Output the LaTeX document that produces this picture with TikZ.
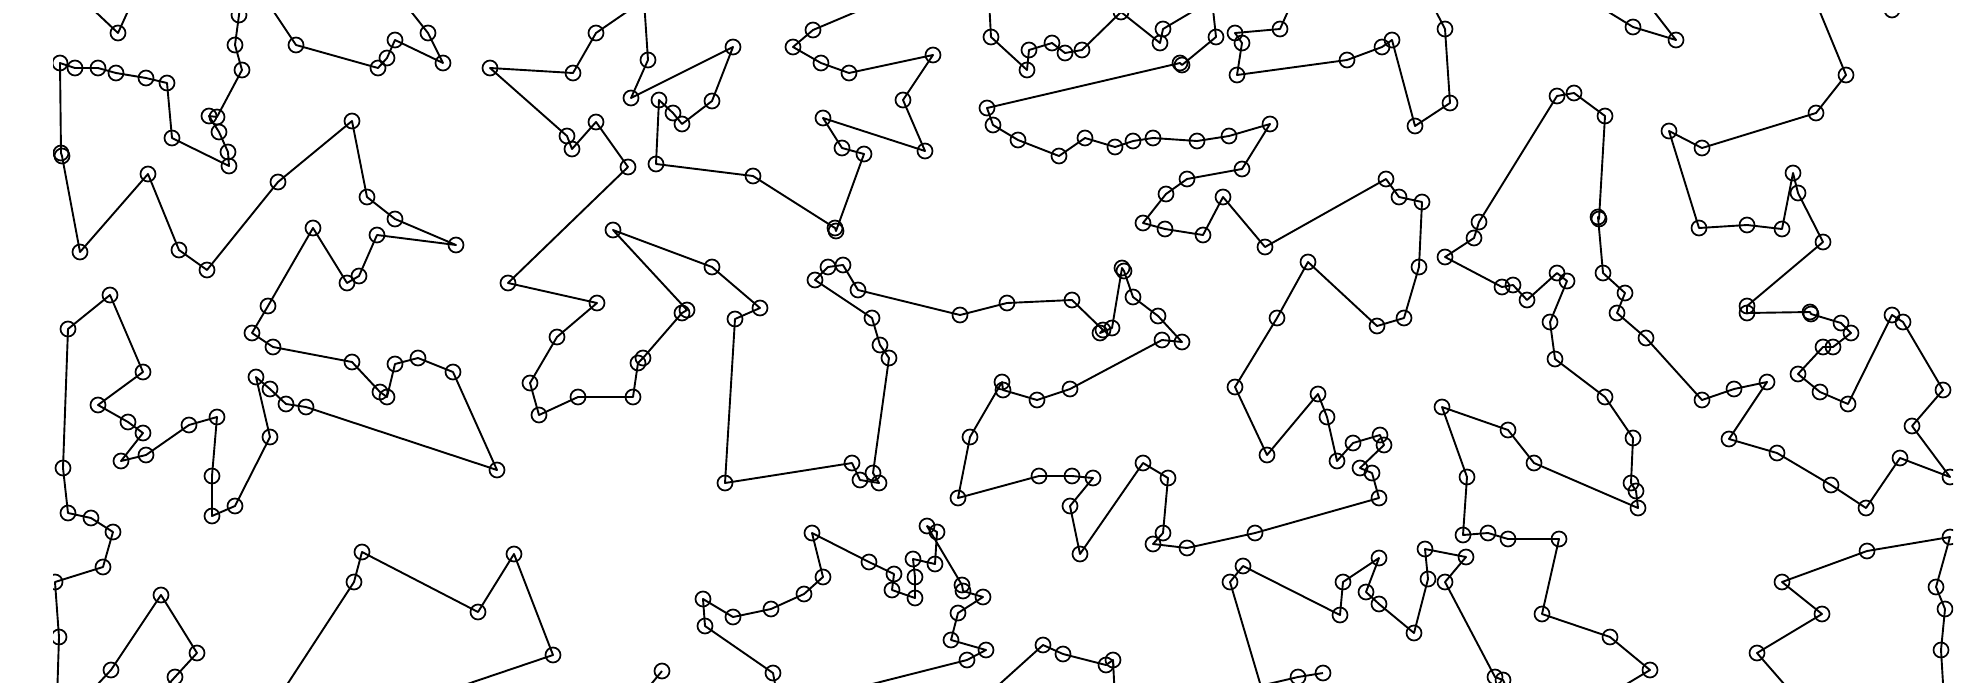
\documentclass[tikz,border=0pt]{standalone}
\tikzset{
  site/.style={draw,circle,minimum size=15pt,inner sep=0pt,line width=1.7pt},
  tour/.style={line width=1.9pt,line join=round}
}
\begin{document}
\begin{tikzpicture}[x=1pt,y=-1pt]
  \useasboundingbox (0,0) rectangle (1986,694);
  \clip (53,13) rectangle (1953,682);
  % ends of the tour that lie outside the frame
  \path
    (83,0) coordinate (as) (133,0) coordinate (ae)
    (241,0) coordinate (bs) (57,700) coordinate (be)
    (266,0) coordinate (cs) (402,0) coordinate (ce)
    (644,0) coordinate (ds) (1212,0) coordinate (de)
    (644,0) coordinate (es) (884,0) coordinate (ee)
    (989,0) coordinate (fs) (1212,0) coordinate (fe)
    (1293,0) coordinate (gs) (1430,0) coordinate (ge)
    (1589,0) coordinate (hs) (1645,0) coordinate (he)
    (1815,0) coordinate (js) (1600,700) coordinate (je)
    (1265,700) coordinate (ks) (1512,700) coordinate (ke)
    (1200,700) coordinate (ls)
    (982,700) coordinate (ms) (1115,700) coordinate (me)
    (778,700) coordinate (ns) (809,700) coordinate (ne)
    (638,700) coordinate (os)
    (277,700) coordinate (ps) (420,700) coordinate (pe)
    (83,700) coordinate (qs) (154,700) coordinate (qe)
    (1944,700) coordinate (ts) (1798,700) coordinate (te);
  % sites
  \draw[every node/.style=site]
    (118,33) node (a1){}
    (1892,10) node (s1){}
    (239,15) node (b1){}
    (235,45) node (b2){}
    (242,70) node (b3){}
    (217,117) node (b4){}
    (209,116) node (b5){}
    (219,132) node (b6){}
    (228,152) node (b7){}
    (229,166) node (b8){}
    (172,138) node (b9){}
    (167,83) node (b10){}
    (146,78) node (b11){}
    (116,73) node (b12){}
    (98,68) node (b13){}
    (75,68) node (b14){}
    (60,63) node (b15){}
    (61,153) node (b16){}
    (62,156) node (b17){}
    (80,252) node (b18){}
    (148,174) node (b19){}
    (179,250) node (b20){}
    (207,270) node (b21){}
    (278,182) node (b22){}
    (352,121) node (b23){}
    (367,197) node (b24){}
    (395,219) node (b25){}
    (456,245) node (b26){}
    (377,235) node (b27){}
    (359,276) node (b28){}
    (347,283) node (b29){}
    (313,228) node (b30){}
    (268,306) node (b31){}
    (252,333) node (b32){}
    (273,347) node (b33){}
    (352,362) node (b34){}
    (380,392) node (b35){}
    (387,397) node (b36){}
    (395,364) node (b37){}
    (418,358) node (b38){}
    (453,372) node (b39){}
    (497,470) node (b40){}
    (306,407) node (b41){}
    (286,404) node (b42){}
    (270,389) node (b43){}
    (256,377) node (b44){}
    (270,437) node (b45){}
    (235,506) node (b46){}
    (212,516) node (b47){}
    (212,476) node (b48){}
    (217,417) node (b49){}
    (189,425) node (b50){}
    (146,455) node (b51){}
    (121,461) node (b52){}
    (143,433) node (b53){}
    (128,422) node (b54){}
    (98,405) node (b55){}
    (143,372) node (b56){}
    (110,295) node (b57){}
    (68,329) node (b58){}
    (63,468) node (b59){}
    (68,513) node (b60){}
    (91,518) node (b61){}
    (113,532) node (b62){}
    (103,567) node (b63){}
    (55,582) node (b64){}
    (59,637) node (b65){};
  \draw[every node/.style=site]
    (296,45) node (c1){}
    (378,68) node (c2){}
    (387,58) node (c3){}
    (395,40) node (c4){}
    (443,63) node (c5){}
    (428,33) node (c6){};
  \draw[every node/.style=site]
    (596,33) node (d1){}
    (573,73) node (d2){}
    (490,68) node (d3){}
    (567,136) node (d4){}
    (572,149) node (d5){}
    (596,122) node (d6){}
    (628,167) node (d7){}
    (508,283) node (d8){}
    (597,303) node (d9){}
    (557,337) node (d10){}
    (530,383) node (d11){}
    (539,415) node (d12){}
    (578,397) node (d13){}
    (633,397) node (d14){}
    (638,363) node (d15){}
    (643,358) node (d16){}
    (682,313) node (d17){}
    (687,310) node (d18){}
    (613,230) node (d19){}
    (712,267) node (d20){}
    (760,308) node (d21){}
    (735,319) node (d22){}
    (725,483) node (d23){}
    (852,463) node (d24){}
    (860,480) node (d25){}
    (879,483) node (d26){}
    (873,473) node (d27){}
    (889,358) node (d28){}
    (880,345) node (d29){}
    (872,318) node (d30){}
    (815,280) node (d31){}
    (828,267) node (d32){}
    (843,265) node (d33){}
    (858,290) node (d34){}
    (960,315) node (d35){}
    (1007,303) node (d36){}
    (1072,300) node (d37){}
    (1103,330) node (d38){}
    (1100,333) node (d39){}
    (1112,328) node (d40){}
    (1122,268) node (d41){}
    (1124,271) node (d42){}
    (1133,297) node (d43){}
    (1158,316) node (d44){}
    (1182,342) node (d45){}
    (1162,340) node (d46){}
    (1070,389) node (d47){}
    (1037,400) node (d48){}
    (1003,390) node (d49){}
    (1002,382) node (d50){}
    (970,437) node (d51){}
    (958,498) node (d52){}
    (1039,476) node (d53){}
    (1072,476) node (d54){}
    (1093,478) node (d55){}
    (1070,506) node (d56){}
    (1080,554) node (d57){}
    (1143,463) node (d58){}
    (1168,478) node (d59){}
    (1163,533) node (d60){}
    (1153,544) node (d61){}
    (1187,548) node (d62){}
    (1255,533) node (d63){}
    (1379,498) node (d64){}
    (1372,473) node (d65){}
    (1360,468) node (d66){}
    (1384,445) node (d67){}
    (1380,435) node (d68){}
    (1353,443) node (d69){}
    (1337,461) node (d70){}
    (1327,417) node (d71){}
    (1318,394) node (d72){}
    (1267,455) node (d73){}
    (1235,387) node (d74){}
    (1277,318) node (d75){}
    (1308,262) node (d76){}
    (1377,326) node (d77){}
    (1404,318) node (d78){}
    (1419,267) node (d79){}
    (1422,202) node (d80){}
    (1399,197) node (d81){}
    (1386,179) node (d82){}
    (1265,247) node (d83){}
    (1223,197) node (d84){}
    (1203,235) node (d85){}
    (1165,229) node (d86){}
    (1143,223) node (d87){}
    (1166,194) node (d88){}
    (1187,179) node (d89){}
    (1242,169) node (d90){}
    (1270,124) node (d91){}
    (1229,136) node (d92){}
    (1197,141) node (d93){}
    (1153,138) node (d94){}
    (1133,141) node (d95){}
    (1115,147) node (d96){}
    (1085,138) node (d97){}
    (1059,156) node (d98){}
    (1018,140) node (d99){}
    (993,125) node (d100){}
    (987,108) node (d101){}
    (1180,63) node (d102){}
    (1182,65) node (d103){}
    (1216,37) node (d104){};
  \draw[every node/.style=site]
    (648,60) node (e1){}
    (631,98) node (e2){}
    (733,47) node (e3){}
    (712,101) node (e4){}
    (682,124) node (e5){}
    (673,113) node (e6){}
    (659,100) node (e7){}
    (656,164) node (e8){}
    (753,176) node (e9){}
    (835,228) node (e10){}
    (836,231) node (e11){}
    (864,154) node (e12){}
    (842,148) node (e13){}
    (823,118) node (e14){}
    (925,151) node (e15){}
    (903,100) node (e16){}
    (933,55) node (e17){}
    (849,73) node (e18){}
    (821,63) node (e19){}
    (793,47) node (e20){}
    (813,30) node (e21){};
  \draw[every node/.style=site]
    (991,37) node (f1){}
    (1027,70) node (f2){}
    (1029,50) node (f3){}
    (1052,43) node (f4){}
    (1065,53) node (f5){}
    (1082,50) node (f6){}
    (1121,12) node (f7){}
    (1160,43) node (f8){}
    (1163,29) node (f9){}
    (1280,29) node (g1){}
    (1235,33) node (g2){}
    (1242,43) node (g3){}
    (1237,75) node (g4){}
    (1347,60) node (g5){}
    (1382,47) node (g6){}
    (1392,40) node (g7){}
    (1415,126) node (g8){}
    (1450,103) node (g9){}
    (1445,29) node (g10){}
    (1633,27) node (h1){}
    (1676,40) node (h2){};
  \draw[every node/.style=site]
    (1846,75) node (j1){}
    (1816,113) node (j2){}
    (1702,148) node (j3){}
    (1669,131) node (j4){}
    (1699,228) node (j5){}
    (1747,225) node (j6){}
    (1782,229) node (j7){}
    (1793,173) node (j8){}
    (1798,193) node (j9){}
    (1823,242) node (j10){}
    (1747,306) node (j11){}
    (1747,313) node (j12){}
    (1810,312) node (j13){}
    (1811,314) node (j14){}
    (1841,323) node (j15){}
    (1851,333) node (j16){}
    (1833,347) node (j17){}
    (1823,347) node (j18){}
    (1798,374) node (j19){}
    (1820,392) node (j20){}
    (1848,404) node (j21){}
    (1892,315) node (j22){}
    (1903,322) node (j23){}
    (1943,390) node (j24){}
    (1912,426) node (j25){}
    (1950,477) node (j26){}
    (1900,458) node (j27){}
    (1866,508) node (j28){}
    (1831,485) node (j29){}
    (1777,453) node (j30){}
    (1729,439) node (j31){}
    (1767,382) node (j32){}
    (1734,389) node (j33){}
    (1702,400) node (j34){}
    (1646,338) node (j35){}
    (1617,313) node (j36){}
    (1625,293) node (j37){}
    (1603,273) node (j38){}
    (1598,217) node (j39){}
    (1599,219) node (j40){}
    (1605,116) node (j41){}
    (1574,93) node (j42){}
    (1557,96) node (j43){}
    (1479,222) node (j44){}
    (1474,238) node (j45){}
    (1445,257) node (j46){}
    (1502,287) node (j47){}
    (1513,285) node (j48){}
    (1527,300) node (j49){}
    (1557,273) node (j50){}
    (1567,281) node (j51){}
    (1550,322) node (j52){}
    (1555,359) node (j53){}
    (1605,397) node (j54){}
    (1633,438) node (j55){}
    (1631,483) node (j56){}
    (1636,491) node (j57){}
    (1638,508) node (j58){}
    (1534,463) node (j59){}
    (1508,430) node (j60){}
    (1442,407) node (j61){}
    (1467,477) node (j62){}
    (1463,535) node (j63){}
    (1488,533) node (j64){}
    (1508,539) node (j65){}
    (1559,539) node (j66){}
    (1542,614) node (j67){}
    (1610,637) node (j68){}
    (1650,670) node (j69){};
  \draw[every node/.style=site]
    (1230,582) node (k1){}
    (1243,566) node (k2){}
    (1340,615) node (k3){}
    (1343,582) node (k4){}
    (1379,558) node (k5){}
    (1366,592) node (k6){}
    (1379,604) node (k7){}
    (1414,633) node (k8){}
    (1428,579) node (k9){}
    (1425,549) node (k10){}
    (1466,557) node (k11){}
    (1445,582) node (k12){}
    (1495,677) node (k13){}
    (1503,680) node (k14){}
    (1298,677) node (l1){}
    (1323,673) node (l2){}
    (1043,645) node (m1){}
    (1063,654) node (m2){}
    (1106,665) node (m3){}
    (1113,660) node (m4){};
  \draw[every node/.style=site]
    (773,673) node (n1){}
    (705,626) node (n2){}
    (703,599) node (n3){}
    (733,617) node (n4){}
    (771,609) node (n5){}
    (804,594) node (n6){}
    (823,577) node (n7){}
    (812,533) node (n8){}
    (869,562) node (n9){}
    (894,574) node (n10){}
    (892,590) node (n11){}
    (915,598) node (n12){}
    (915,577) node (n13){}
    (913,559) node (n14){}
    (935,564) node (n15){}
    (937,532) node (n16){}
    (927,526) node (n17){}
    (962,585) node (n18){}
    (963,591) node (n19){}
    (983,597) node (n20){}
    (958,613) node (n21){}
    (951,640) node (n22){}
    (986,650) node (n23){}
    (967,660) node (n24){}
    (662,671) node (o1){}
    (354,582) node (p1){}
    (362,552) node (p2){}
    (478,612) node (p3){}
    (514,554) node (p4){}
    (553,655) node (p5){}
    (111,670) node (q1){}
    (161,595) node (q2){}
    (197,653) node (q3){}
    (175,677) node (q4){}
    (1941,650) node (t1){}
    (1945,609) node (t2){}
    (1936,587) node (t3){}
    (1950,537) node (t4){}
    (1867,551) node (t5){}
    (1782,582) node (t6){}
    (1822,614) node (t7){}
    (1757,653) node (t8){};
  \begin{scope}[tour]
    \draw (as) -- (a1.center) -- (ae);
    \draw (bs) -- (b1.center) -- (b2.center) -- (b3.center) -- (b4.center) -- (b5.center)
      -- (b6.center) -- (b7.center) -- (b8.center) -- (b9.center) -- (b10.center)
      -- (b11.center) -- (b12.center) -- (b13.center) -- (b14.center) -- (b15.center)
      -- (b16.center) -- (b17.center) -- (b18.center) -- (b19.center) -- (b20.center)
      -- (b21.center) -- (b22.center) -- (b23.center) -- (b24.center) -- (b25.center)
      -- (b26.center) -- (b27.center) -- (b28.center) -- (b29.center) -- (b30.center)
      -- (b31.center) -- (b32.center) -- (b33.center) -- (b34.center) -- (b35.center)
      -- (b36.center) -- (b37.center) -- (b38.center) -- (b39.center) -- (b40.center)
      -- (b41.center) -- (b42.center) -- (b43.center) -- (b44.center) -- (b45.center)
      -- (b46.center) -- (b47.center) -- (b48.center) -- (b49.center) -- (b50.center)
      -- (b51.center) -- (b52.center) -- (b53.center) -- (b54.center) -- (b55.center)
      -- (b56.center) -- (b57.center) -- (b58.center) -- (b59.center) -- (b60.center)
      -- (b61.center) -- (b62.center) -- (b63.center) -- (b64.center) -- (b65.center)
      -- (be);
    \draw (cs) -- (c1.center) -- (c2.center) -- (c3.center) -- (c4.center) -- (c5.center)
      -- (c6.center) -- (ce);
    \draw (ds) -- (d1.center) -- (d2.center) -- (d3.center) -- (d4.center) -- (d5.center)
      -- (d6.center) -- (d7.center) -- (d8.center) -- (d9.center) -- (d10.center)
      -- (d11.center) -- (d12.center) -- (d13.center) -- (d14.center) -- (d15.center)
      -- (d16.center) -- (d17.center) -- (d18.center) -- (d19.center) -- (d20.center)
      -- (d21.center) -- (d22.center) -- (d23.center) -- (d24.center) -- (d25.center)
      -- (d26.center) -- (d27.center) -- (d28.center) -- (d29.center) -- (d30.center)
      -- (d31.center) -- (d32.center) -- (d33.center) -- (d34.center) -- (d35.center)
      -- (d36.center) -- (d37.center) -- (d38.center) -- (d39.center) -- (d40.center)
      -- (d41.center) -- (d42.center) -- (d43.center) -- (d44.center) -- (d45.center)
      -- (d46.center) -- (d47.center) -- (d48.center) -- (d49.center) -- (d50.center)
      -- (d51.center) -- (d52.center) -- (d53.center) -- (d54.center) -- (d55.center)
      -- (d56.center) -- (d57.center) -- (d58.center) -- (d59.center) -- (d60.center)
      -- (d61.center) -- (d62.center) -- (d63.center) -- (d64.center) -- (d65.center)
      -- (d66.center) -- (d67.center) -- (d68.center) -- (d69.center) -- (d70.center)
      -- (d71.center) -- (d72.center) -- (d73.center) -- (d74.center) -- (d75.center)
      -- (d76.center) -- (d77.center) -- (d78.center) -- (d79.center) -- (d80.center)
      -- (d81.center) -- (d82.center) -- (d83.center) -- (d84.center) -- (d85.center)
      -- (d86.center) -- (d87.center) -- (d88.center) -- (d89.center) -- (d90.center)
      -- (d91.center) -- (d92.center) -- (d93.center) -- (d94.center) -- (d95.center)
      -- (d96.center) -- (d97.center) -- (d98.center) -- (d99.center) -- (d100.center)
      -- (d101.center) -- (d102.center) -- (d103.center) -- (d104.center) -- (de);
    \draw (es) -- (e1.center) -- (e2.center) -- (e3.center) -- (e4.center) -- (e5.center)
      -- (e6.center) -- (e7.center) -- (e8.center) -- (e9.center) -- (e10.center)
      -- (e11.center) -- (e12.center) -- (e13.center) -- (e14.center) -- (e15.center)
      -- (e16.center) -- (e17.center) -- (e18.center) -- (e19.center) -- (e20.center)
      -- (e21.center) -- (ee);
    \draw (fs) -- (f1.center) -- (f2.center) -- (f3.center) -- (f4.center) -- (f5.center)
      -- (f6.center) -- (f7.center) -- (f8.center) -- (f9.center) -- (fe);
    \draw (gs) -- (g1.center) -- (g2.center) -- (g3.center) -- (g4.center) -- (g5.center)
      -- (g6.center) -- (g7.center) -- (g8.center) -- (g9.center) -- (g10.center) -- (ge);
    \draw (hs) -- (h1.center) -- (h2.center) -- (he);
    \draw (js) -- (j1.center) -- (j2.center) -- (j3.center) -- (j4.center) -- (j5.center)
      -- (j6.center) -- (j7.center) -- (j8.center) -- (j9.center) -- (j10.center)
      -- (j11.center) -- (j12.center) -- (j13.center) -- (j14.center) -- (j15.center)
      -- (j16.center) -- (j17.center) -- (j18.center) -- (j19.center) -- (j20.center)
      -- (j21.center) -- (j22.center) -- (j23.center) -- (j24.center) -- (j25.center)
      -- (j26.center) -- (j27.center) -- (j28.center) -- (j29.center) -- (j30.center)
      -- (j31.center) -- (j32.center) -- (j33.center) -- (j34.center) -- (j35.center)
      -- (j36.center) -- (j37.center) -- (j38.center) -- (j39.center) -- (j40.center)
      -- (j41.center) -- (j42.center) -- (j43.center) -- (j44.center) -- (j45.center)
      -- (j46.center) -- (j47.center) -- (j48.center) -- (j49.center) -- (j50.center)
      -- (j51.center) -- (j52.center) -- (j53.center) -- (j54.center) -- (j55.center)
      -- (j56.center) -- (j57.center) -- (j58.center) -- (j59.center) -- (j60.center)
      -- (j61.center) -- (j62.center) -- (j63.center) -- (j64.center) -- (j65.center)
      -- (j66.center) -- (j67.center) -- (j68.center) -- (j69.center) -- (je);
    \draw (ks) -- (k1.center) -- (k2.center) -- (k3.center) -- (k4.center) -- (k5.center)
      -- (k6.center) -- (k7.center) -- (k8.center) -- (k9.center) -- (k10.center)
      -- (k11.center) -- (k12.center) -- (k13.center) -- (k14.center) -- (ke);
    \draw (ls) -- (l1.center) -- (l2.center);
    \draw (ms) -- (m1.center) -- (m2.center) -- (m3.center) -- (m4.center) -- (me);
    \draw (ns) -- (n1.center) -- (n2.center) -- (n3.center) -- (n4.center) -- (n5.center)
      -- (n6.center) -- (n7.center) -- (n8.center) -- (n9.center) -- (n10.center)
      -- (n11.center) -- (n12.center) -- (n13.center) -- (n14.center) -- (n15.center)
      -- (n16.center) -- (n17.center) -- (n18.center) -- (n19.center) -- (n20.center)
      -- (n21.center) -- (n22.center) -- (n23.center) -- (n24.center) -- (ne);
    \draw (os) -- (o1.center);
    \draw (ps) -- (p1.center) -- (p2.center) -- (p3.center) -- (p4.center) -- (p5.center)
      -- (pe);
    \draw (qs) -- (q1.center) -- (q2.center) -- (q3.center) -- (q4.center) -- (qe);
    \draw (ts) -- (t1.center) -- (t2.center) -- (t3.center) -- (t4.center) -- (t5.center)
      -- (t6.center) -- (t7.center) -- (t8.center) -- (te);
  \end{scope}
\end{tikzpicture}
\end{document}
